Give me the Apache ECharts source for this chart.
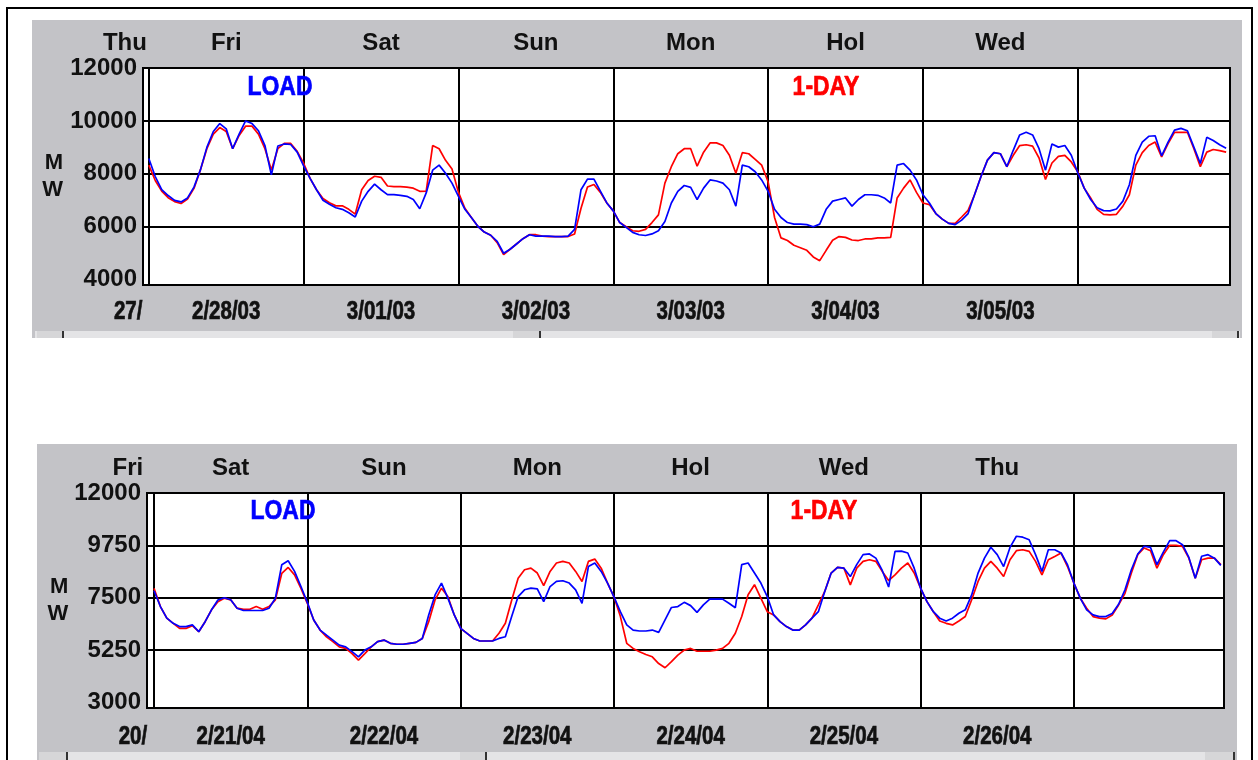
<!DOCTYPE html>
<html>
<head>
<meta charset="utf-8">
<script src="https://cdn.jsdelivr.net/npm/echarts@6/dist/echarts.min.js"></script>
<style>
  html, body { margin: 0; padding: 0; width: 1258px; height: 760px; overflow: hidden; background: #fff; }
  #frame { position: absolute; left: 6px; top: 7px; width: 1243px; height: 800px; border: 2px solid #000; }
  .panel { position: absolute; background: #c3c3c7; }
  #topChart { left: 32px; top: 20px; width: 1210px; height: 318px; }
  #bottomChart { left: 37px; top: 444px; width: 1200px; height: 316px; }
  .strip { position: absolute; background: #e4e4e6; height: 7px; }
  .thumb { position: absolute; background: #d6d6d8; border-right: 2px solid #333; height: 7px; }
</style>
</head>
<body>
<div id="frame"></div>
<div id="topChart" class="panel"></div>
<div id="bottomChart" class="panel"></div>
<div class="strip" style="left:35px; top:331px; width:1205px;"></div>
<div class="thumb" style="left:37px; top:331px; width:25px;"></div>
<div class="thumb" style="left:513px; top:331px; width:26px;"></div>
<div class="thumb" style="left:1212px; top:331px; width:25px;"></div>
<div class="strip" style="left:40px; top:752px; width:1195px; height:8px;"></div>
<div class="thumb" style="left:39px; top:752px; width:27px; height:8px;"></div>
<div class="thumb" style="left:460px; top:752px; width:25px; height:8px;"></div>
<div class="thumb" style="left:1205px; top:752px; width:28px; height:8px;"></div>
<script>
// hourly MW, hour 0 = start of the first full day
const dayBoundaries = [0, 24, 48, 72, 96, 120, 144];

// ---- week of 2/28/03 ----
const topDays = ['Thu', 'Fri', 'Sat', 'Sun', 'Mon', 'Hol', 'Wed'];
const topDayHours = [-3.7, 12, 36, 60, 84, 108, 132];
const topDates = ['27/', '2/28/03', '3/01/03', '3/02/03', '3/03/03', '3/04/03', '3/05/03'];
const topDateHours = [-3.2, 12, 36, 60, 84, 108, 132];
const topYLabels = [4000, 6000, 8000, 10000, 12000];
const topYGrid = [6000, 8000, 10000];

const topLoad = [
  8580, 7900, 7400, 7180, 7000, 6940, 7090, 7500, 8150, 9000, 9600, 9900, 9700, 8950, 9500, 10000, 9900, 9630, 9070, 7960, 9050, 9130, 9110, 8820,
  8300, 7830, 7400, 7000, 6850, 6720, 6660, 6530, 6370, 6970, 7340, 7610, 7400, 7215, 7215, 7190, 7150, 7030, 6680, 7280, 8140, 8330, 8020, 7650,
  7150, 6660, 6350, 6020, 5800, 5680, 5450, 5000, 5150, 5350, 5550, 5700, 5650, 5650, 5650, 5630, 5630, 5650, 5900, 7400, 7800, 7800, 7350, 6900,
  6600, 6160, 5980, 5790, 5700, 5670, 5730, 5850, 6200, 6900, 7340, 7560, 7490, 7030, 7460, 7770, 7730, 7650, 7400, 6780, 8330, 8270, 8080, 7770,
  7340, 6660, 6350, 6160, 6100, 6100, 6080, 6000, 6100, 6660, 6970, 7030, 7090, 6780, 7030, 7210, 7210, 7190, 7090, 6900, 8330, 8390, 8140, 7770,
  7210, 6900, 6500, 6290, 6130, 6080, 6250, 6500, 7210, 7900, 8520, 8800, 8760, 8270, 8890, 9470, 9570, 9470, 8950, 8140, 9130, 9010, 9070, 8700,
  8040, 7460, 7030, 6720, 6610, 6600, 6670, 6970, 7590, 8700, 9200, 9420, 9440, 8680, 9200, 9650, 9720, 9630, 9010, 8390, 9380, 9260, 9100, 8970
];
const topDayAhead = [
  8330, 7750, 7350, 7100, 6950, 6880, 7050, 7450, 8150, 8950, 9500, 9750, 9600, 8950, 9450, 9800, 9800, 9500, 8950, 8150, 8950, 9150, 9150, 8850,
  8400, 7830, 7400, 7070, 6910, 6790, 6790, 6660, 6480, 7400, 7750, 7910, 7870, 7540, 7520, 7520, 7500, 7460, 7340, 7350, 9070, 8950, 8510, 8180,
  7300, 6700, 6350, 6020, 5800, 5680, 5400, 4950, 5150, 5350, 5550, 5700, 5700, 5650, 5630, 5630, 5630, 5630, 5730, 6700, 7500, 7600, 7300, 6900,
  6600, 6160, 6000, 5850, 5830, 5900, 6160, 6450, 7650, 8270, 8760, 8950, 8950, 8290, 8820, 9170, 9170, 9070, 8700, 8020, 8800, 8760, 8550, 8330,
  7700, 6350, 5580, 5480, 5300, 5210, 5110, 4860, 4720, 5110, 5490, 5630, 5600, 5500, 5480, 5540, 5540, 5580, 5580, 5600, 7090, 7460, 7770, 7300,
  6900, 6840, 6500, 6290, 6130, 6130, 6370, 6620, 7210, 7900, 8520, 8800, 8760, 8270, 8700, 9070, 9100, 9050, 8600, 7790, 8410, 8660, 8700, 8450,
  8080, 7460, 7090, 6660, 6470, 6450, 6470, 6780, 7210, 8330, 8800, 9070, 9200, 8640, 9140, 9570, 9570, 9570, 8950, 8270, 8820, 8920, 8880, 8820
];

// ---- week of 2/21/04 ----
const bottomDays = ['Fri', 'Sat', 'Sun', 'Mon', 'Hol', 'Wed', 'Thu'];
const bottomDayHours = [-4.1, 12, 36, 60, 84, 108, 132];
const bottomDates = ['20/', '2/21/04', '2/22/04', '2/23/04', '2/24/04', '2/25/04', '2/26/04'];
const bottomDateHours = [-3.3, 12, 36, 60, 84, 108, 132];
const bottomYLabels = [3000, 5250, 7500, 9750, 12000];
const bottomYGrid = [5250, 7500, 9750];

const bottomLoad = [
  7800, 7120, 6620, 6400, 6260, 6260, 6330, 6040, 6470, 6980, 7400, 7500, 7410, 7050, 6950, 6950, 6950, 6950, 7050, 7480, 8920, 9090, 8630, 7980,
  7300, 6540, 6110, 5890, 5680, 5460, 5390, 5180, 4960, 5250, 5390, 5610, 5680, 5540, 5500, 5500, 5540, 5580, 5750, 6760, 7620, 8130, 7480, 6760,
  6180, 5970, 5750, 5640, 5640, 5640, 5750, 5820, 6700, 7550, 7840, 7910, 7880, 7330, 7980, 8200, 8230, 8130, 7840, 7260, 8840, 8990, 8630, 8130,
  7540, 6900, 6330, 6110, 6070, 6070, 6110, 6010, 6550, 7080, 7120, 7300, 7160, 6870, 7190, 7440, 7440, 7440, 7260, 7070, 8920, 8990, 8560, 8130,
  7550, 6760, 6470, 6260, 6110, 6110, 6330, 6620, 6900, 7770, 8560, 8800, 8770, 8410, 8920, 9350, 9380, 9200, 8670, 7960, 9490, 9500, 9420, 8770,
  7910, 7330, 6900, 6620, 6500, 6620, 6830, 6980, 7620, 8560, 9200, 9670, 9350, 8840, 9660, 10140, 10100, 9990, 9350, 8630, 9560, 9560, 9420, 8920,
  8130, 7480, 6980, 6760, 6690, 6690, 6820, 7220, 7840, 8700, 9380, 9710, 9660, 8920, 9460, 9950, 9950, 9780, 9230, 8340, 9280, 9350, 9200, 8890
];
const bottomDayAhead = [
  7900, 7120, 6620, 6400, 6180, 6180, 6300, 6040, 6470, 6980, 7330, 7480, 7410, 7050, 7000, 7000, 7120, 7000, 7120, 7410, 8550, 8800, 8480, 7900,
  7260, 6540, 6110, 5820, 5610, 5390, 5320, 5100, 4820, 5100, 5390, 5610, 5680, 5540, 5500, 5500, 5540, 5580, 5750, 6470, 7410, 7910, 7550, 6760,
  6180, 5970, 5750, 5640, 5640, 5640, 5970, 6400, 7400, 8340, 8700, 8770, 8560, 8020, 8630, 8990, 9060, 8990, 8630, 8200, 9060, 9160, 8770, 8130,
  7540, 6700, 5540, 5320, 5180, 5060, 4960, 4670, 4490, 4750, 5030, 5250, 5320, 5200, 5200, 5200, 5250, 5320, 5540, 5970, 6690, 7630, 8060, 7480,
  6900, 6760, 6470, 6260, 6110, 6110, 6330, 6620, 7190, 7770, 8560, 8800, 8770, 8050, 8770, 9060, 9130, 9060, 8630, 8240, 8480, 8770, 8990, 8560,
  7910, 7330, 6900, 6500, 6400, 6330, 6500, 6690, 7410, 8200, 8770, 9060, 8770, 8410, 9130, 9520, 9560, 9490, 9060, 8480, 9130, 9270, 9420, 8840,
  8130, 7480, 7050, 6690, 6620, 6590, 6760, 7190, 7690, 8560, 9350, 9640, 9520, 8770, 9350, 9750, 9750, 9710, 9200, 8340, 9130, 9200, 9200, 8920
];

const sans = '"Liberation Sans", Arial, sans-serif';

function makeOption(p) {
  return {
    animation: false,
    grid: {
      left: p.gridLeft, top: p.gridTop, width: p.gridWidth, height: p.gridHeight,
      show: true, backgroundColor: '#fff', borderColor: '#000', borderWidth: 2
    },
    xAxis: {
      type: 'value', min: p.xMin, max: p.xMax,
      axisLine: { show: false },
      axisTick: { show: false, customValues: dayBoundaries },
      axisLabel: { show: false },
      splitLine: { show: true, lineStyle: { color: '#000', width: 2 } }
    },
    yAxis: {
      type: 'value', min: p.yMin, max: 12000,
      name: 'M\nW', nameLocation: 'middle', nameRotate: 0, nameGap: p.nameGap,
      nameTextStyle: { fontSize: 22, fontWeight: 'bold', fontFamily: sans, color: '#111', lineHeight: 27 },
      axisLine: { show: false },
      axisTick: { show: false, customValues: p.yGrid },
      axisLabel: {
        customValues: p.yLabels, margin: 6, formatter: v => String(v),
        fontSize: 24, fontWeight: 'bold', fontFamily: sans, color: '#111'
      },
      splitLine: { show: true, lineStyle: { color: '#000', width: 2 } }
    },
    series: [
      {
        name: '1-DAY', type: 'line', showSymbol: false,
        data: p.dayAhead.map((v, i) => [i, v]),
        lineStyle: { color: '#ff0000', width: 1.7 }, itemStyle: { color: '#ff0000' }
      },
      {
        name: 'LOAD', type: 'line', showSymbol: false,
        data: p.load.map((v, i) => [i, v]),
        lineStyle: { color: '#0000ff', width: 1.7 }, itemStyle: { color: '#0000ff' }
      }
    ]
  };
}

function textEl(t, x, y, font, color, sx, heavy) {
  const style = { text: t, font: font, fill: color, textAlign: 'center', textVerticalAlign: 'middle' };
  if (heavy) {
    // condensed text loses weight when squeezed, thicken it a bit
    style.stroke = color;
    style.lineWidth = 0.7;
  }
  return { type: 'text', x: x, y: y, scaleX: sx, style: style };
}

function addLabels(chart, p) {
  const g = [];
  p.days.forEach((t, i) => {
    g.push(textEl(t, chart.convertToPixel({ xAxisIndex: 0 }, p.dayHours[i]), p.dayY, 'bold 24px ' + sans, '#111', 1, false));
  });
  p.dates.forEach((t, i) => {
    g.push(textEl(t, chart.convertToPixel({ xAxisIndex: 0 }, p.dateHours[i]), p.dateY, 'bold 25px ' + sans, '#111', 0.82, true));
  });
  // series names written inside the plot, as in the original
  g.push(textEl('LOAD', p.loadX, p.nameY, 'bold 28px ' + sans, '#0000ff', 0.82, true));
  g.push(textEl('1-DAY', p.dayAheadX, p.nameY, 'bold 28px ' + sans, '#ff0000', 0.82, true));
  chart.setOption({ graphic: g });
}

const topParams = {
  gridLeft: 111, gridTop: 48, gridWidth: 1087, gridHeight: 217,
  xMin: -0.9, xMax: 167.6, yMin: 3800, nameGap: 80,
  yLabels: topYLabels, yGrid: topYGrid,
  load: topLoad, dayAhead: topDayAhead,
  days: topDays, dayHours: topDayHours, dates: topDates, dateHours: topDateHours,
  dayY: 23, dateY: 292, loadX: 248, dayAheadX: 794, nameY: 67
};
const bottomParams = {
  gridLeft: 110, gridTop: 49, gridWidth: 1077, gridHeight: 215,
  xMin: -1.1, xMax: 167.5, yMin: 2760, nameGap: 78,
  yLabels: bottomYLabels, yGrid: bottomYGrid,
  load: bottomLoad, dayAhead: bottomDayAhead,
  days: bottomDays, dayHours: bottomDayHours, dates: bottomDates, dateHours: bottomDateHours,
  dayY: 24, dateY: 293, loadX: 246, dayAheadX: 787, nameY: 67
};

const topChart = echarts.init(document.getElementById('topChart'));
topChart.setOption(makeOption(topParams));
addLabels(topChart, topParams);

const bottomChart = echarts.init(document.getElementById('bottomChart'));
bottomChart.setOption(makeOption(bottomParams));
addLabels(bottomChart, bottomParams);
</script>
</body>
</html>
